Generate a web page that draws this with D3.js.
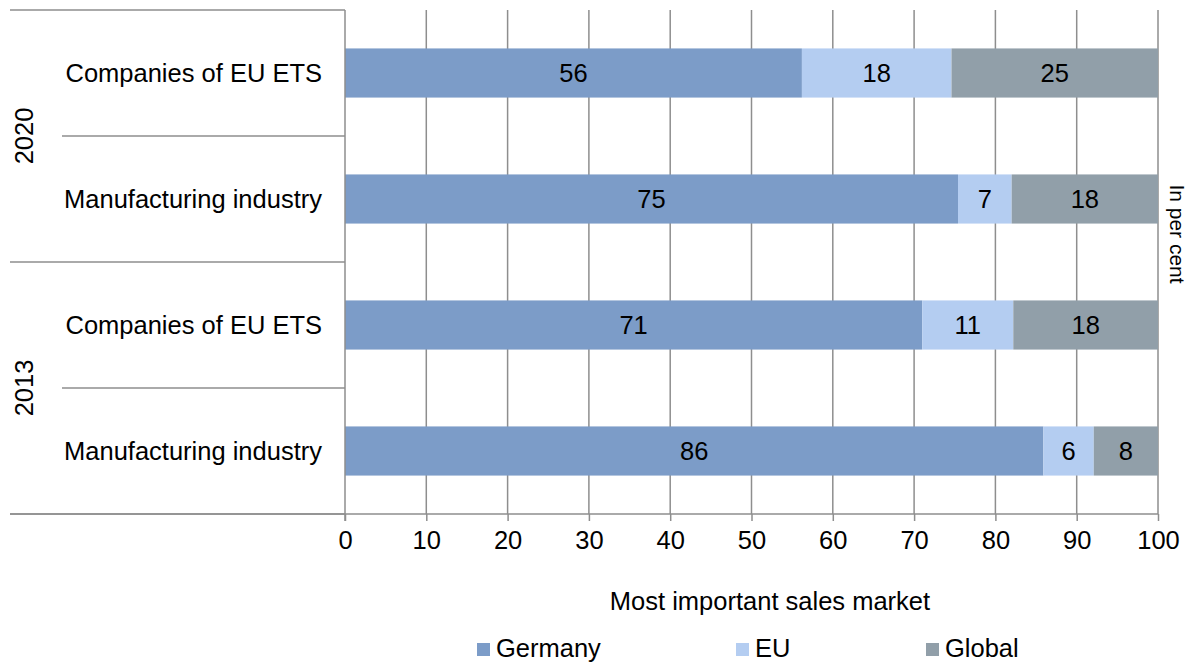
<!DOCTYPE html>
<html lang="en">
<head>
    <meta charset="UTF-8">
    <title>Most important sales market</title>
    <script src="https://d3js.org/d3.v7.min.js"></script>
    <style>
        body { margin: 0; background: #fff; }
        text { font-family: "Liberation Sans", Arial, sans-serif; fill: #000; }
    </style>
</head>
<body>
    <div id="chart"></div>

    <script>
        // Data
        const years = ["2020", "2013"];
        const categories = ["Companies of EU ETS", "Manufacturing industry"];
        const markets = ["Germany", "EU", "Global"];
        // one row per bar, top to bottom
        const germany = [56.2, 75.4, 71.0, 85.9];
        const eu = [18.4, 6.6, 11.2, 6.2];
        const global = [25.4, 18.0, 17.8, 7.9];
        const xTicks = [0, 10, 20, 30, 40, 50, 60, 70, 80, 90, 100];

        const colors = ["#7c9cc8", "#b4cdf1", "#919fa9"];
        const gridColor = "#8e8e8e";
        const fontSize = "25.5px";

        const width = 1200;
        const height = 663;
        const plot = { left: 345, right: 1158, top: 10, bottom: 514 };

        const rows = [];
        years.forEach((yr, i) => {
            categories.forEach((cat, j) => {
                const k = i * categories.length + j;
                rows.push({ id: k, year: yr, category: cat, Germany: germany[k], EU: eu[k], Global: global[k] });
            });
        });

        const svg = d3.select("#chart")
            .append("svg")
            .attr("width", width)
            .attr("height", height);

        const x = d3.scaleLinear()
            .domain([0, 100])
            .range([plot.left, plot.right]);

        const y = d3.scaleBand()
            .domain(rows.map(d => d.id))
            .range([plot.top, plot.bottom])
            .paddingInner(0.61)
            .paddingOuter(0.305);

        const color = d3.scaleOrdinal().domain(markets).range(colors);

        // vertical gridlines
        svg.append("g")
            .selectAll("line")
            .data(xTicks.slice(1))
            .join("line")
            .attr("x1", d => x(d)).attr("x2", d => x(d))
            .attr("y1", plot.top).attr("y2", plot.bottom)
            .attr("stroke", gridColor)
            .attr("stroke-width", 1.5);

        // stacked bars
        const series = d3.stack().keys(markets)(rows);

        const layer = svg.append("g")
            .selectAll("g")
            .data(series)
            .join("g")
            .attr("fill", d => color(d.key));

        layer.selectAll("rect")
            .data(d => d)
            .join("rect")
            .attr("x", d => x(d[0]))
            .attr("width", d => x(d[1]) - x(d[0]))
            .attr("y", d => y(d.data.id))
            .attr("height", y.bandwidth());

        layer.selectAll("text")
            .data(d => d)
            .join("text")
            .attr("x", d => (x(d[0]) + x(d[1])) / 2)
            .attr("y", d => y(d.data.id) + y.bandwidth() / 2)
            .attr("dy", "0.36em")
            .attr("text-anchor", "middle")
            .style("font-size", fontSize)
            .text(d => Math.round(d[1] - d[0]));

        // bottom axis
        const xAxis = svg.append("g")
            .attr("transform", `translate(0,${plot.bottom})`)
            .call(d3.axisBottom(x).tickValues(xTicks).tickSize(7).tickPadding(10));
        xAxis.select(".domain").remove();
        xAxis.selectAll(".tick line").attr("stroke", gridColor).attr("stroke-width", 1.5);
        xAxis.selectAll(".tick text")
            .style("font-size", fontSize)
            .style("font-family", "'Liberation Sans', Arial, sans-serif")
            .attr("fill", "#000");

        // axis lines
        svg.append("line")
            .attr("x1", 10).attr("x2", plot.right)
            .attr("y1", plot.bottom).attr("y2", plot.bottom)
            .attr("stroke", gridColor).attr("stroke-width", 1.5);
        svg.append("line")
            .attr("x1", plot.left).attr("x2", plot.left)
            .attr("y1", plot.top).attr("y2", plot.bottom + 7)
            .attr("stroke", gridColor).attr("stroke-width", 1.5);

        // category separators (year boundaries go full width)
        const bounds = [];
        for (let k = 0; k <= rows.length; k++) {
            bounds.push({ y: plot.top + k * y.step(), outer: k % categories.length === 0 });
        }
        svg.append("g")
            .selectAll("line")
            .data(bounds)
            .join("line")
            .attr("x1", d => d.outer ? 10 : 62)
            .attr("x2", plot.left)
            .attr("y1", d => d.y).attr("y2", d => d.y)
            .attr("stroke", gridColor)
            .attr("stroke-width", 1.5);

        // category labels
        svg.append("g")
            .selectAll("text")
            .data(rows)
            .join("text")
            .attr("x", 322)
            .attr("y", d => y(d.id) + y.bandwidth() / 2)
            .attr("dy", "0.36em")
            .attr("text-anchor", "end")
            .style("font-size", fontSize)
            .text(d => d.category);

        // year labels
        svg.append("g")
            .selectAll("text")
            .data(years)
            .join("text")
            .attr("transform", (d, i) => `translate(33,${plot.top + (i * 2 + 1) * y.step()}) rotate(-90)`)
            .attr("text-anchor", "middle")
            .style("font-size", fontSize)
            .text(d => d);

        // axis titles
        svg.append("text")
            .attr("x", 770)
            .attr("y", 610)
            .attr("text-anchor", "middle")
            .style("font-size", fontSize)
            .text("Most important sales market");

        svg.append("text")
            .attr("transform", "translate(1170,234) rotate(90)")
            .attr("text-anchor", "middle")
            .style("font-size", "21px")
            .text("In per cent");

        // legend
        const legendX = [477, 736, 926];
        const legend = svg.append("g")
            .selectAll("g")
            .data(markets)
            .join("g")
            .attr("transform", (d, i) => `translate(${legendX[i]},643)`);
        legend.append("rect")
            .attr("width", 13).attr("height", 13)
            .attr("fill", d => color(d));
        legend.append("text")
            .attr("x", 19)
            .attr("y", 14)
            .style("font-size", fontSize)
            .text(d => d);
    </script>
</body>
</html>
